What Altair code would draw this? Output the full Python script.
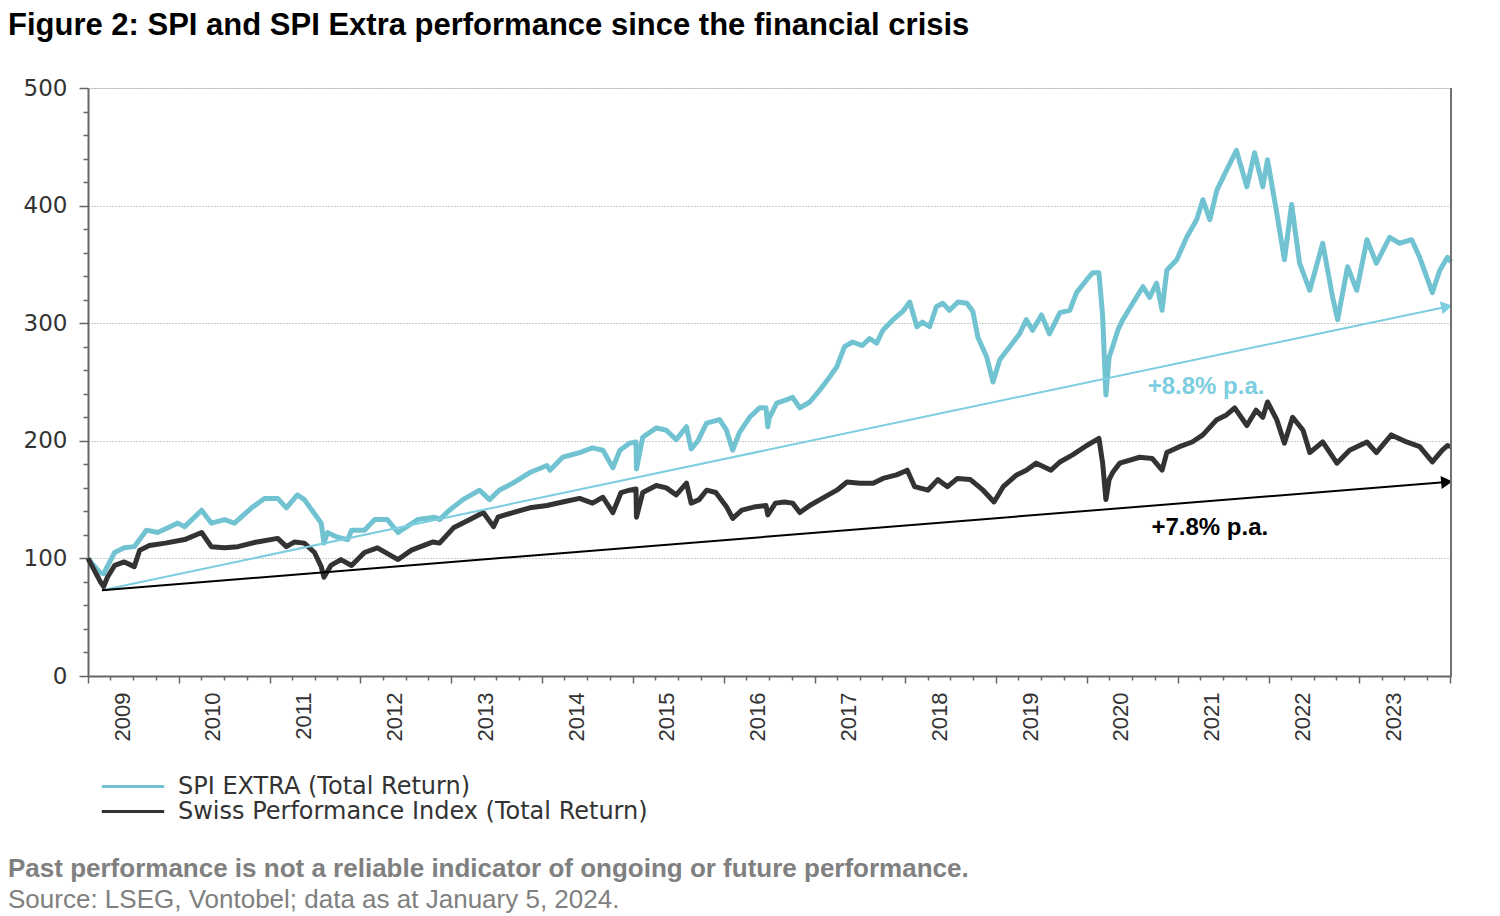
import altair as alt
import pandas as pd

TITLE = "Figure 2: SPI and SPI Extra performance since the financial crisis"
SERIES = ["SPI EXTRA (Total Return)", "Swiss Performance Index (Total Return)"]
COLORS = ["#72c3d2", "#333333"]

EXTRA_DATES = [
    "2009-01-01", "2009-01-16", "2009-02-18", "2009-03-05", "2009-04-18", "2009-05-27", "2009-07-06",
    "2009-08-24", "2009-10-08", "2009-11-18", "2009-12-28",
    "2010-01-25", "2010-04-03", "2010-05-12", "2010-07-04", "2010-08-13", "2010-10-21", "2010-12-12",
    "2011-02-03", "2011-03-10", "2011-04-23", "2011-05-21", "2011-07-01", "2011-07-28", "2011-08-08",
    "2011-08-22", "2011-10-01", "2011-11-12", "2011-11-27",
    "2012-01-18", "2012-02-28", "2012-04-19", "2012-06-01", "2012-08-19", "2012-10-27", "2012-11-15", "2012-12-25",
    "2013-02-17", "2013-04-25", "2013-06-04", "2013-07-13", "2013-09-06", "2013-11-13",
    "2014-01-21", "2014-02-02", "2014-03-25", "2014-06-01", "2014-07-23", "2014-09-03", "2014-10-13",
    "2014-11-10", "2014-12-19",
    "2015-01-14", "2015-01-16", "2015-02-10", "2015-04-06", "2015-05-16", "2015-06-25", "2015-08-05",
    "2015-08-24", "2015-09-20", "2015-10-25", "2015-12-16",
    "2016-01-13", "2016-02-07", "2016-03-05", "2016-04-15", "2016-05-25", "2016-06-20", "2016-06-27",
    "2016-07-04", "2016-08-02", "2016-09-12", "2016-10-05", "2016-11-03", "2016-12-13",
    "2017-01-22", "2017-03-02", "2017-04-01", "2017-05-02", "2017-06-03", "2017-07-13", "2017-08-10",
    "2017-09-08", "2017-10-03", "2017-11-13", "2017-12-22",
    "2018-01-19", "2018-02-17", "2018-03-11", "2018-04-09", "2018-05-06", "2018-06-01", "2018-06-28",
    "2018-08-01", "2018-09-06", "2018-09-30", "2018-10-20", "2018-11-25", "2018-12-20",
    "2019-01-16", "2019-02-25", "2019-04-06", "2019-05-03", "2019-05-28", "2019-07-03", "2019-08-04",
    "2019-09-15", "2019-10-25", "2019-11-21",
    "2020-01-01", "2020-01-25", "2020-02-19", "2020-03-05", "2020-03-18", "2020-03-31", "2020-04-14",
    "2020-05-05", "2020-05-25", "2020-07-04", "2020-08-14", "2020-09-10", "2020-10-08", "2020-10-30",
    "2020-11-18", "2020-12-28",
    "2021-02-06", "2021-03-18", "2021-04-12", "2021-05-10", "2021-06-07", "2021-07-16", "2021-08-25",
    "2021-10-06", "2021-11-06", "2021-12-09", "2021-12-28",
    "2022-02-03", "2022-03-06", "2022-04-04", "2022-05-06", "2022-06-16", "2022-08-07", "2022-09-16",
    "2022-10-06", "2022-11-15", "2022-12-22",
    "2023-02-01", "2023-03-11", "2023-05-03", "2023-06-12", "2023-07-31", "2023-09-01", "2023-10-22",
    "2023-11-21", "2023-12-22", "2024-01-05",
]
EXTRA_VALUES = [
    100, 96, 88, 87, 105, 109, 110, 124, 122, 126, 130,
    127, 141, 130, 133, 130, 143, 151,
    151, 143, 154, 150, 138, 130, 113, 122, 118, 116, 124,
    124, 133, 133, 122, 133, 135, 133, 141,
    150, 158, 150, 158, 164, 173,
    179, 175, 186, 190, 194, 192, 177, 192, 198,
    199, 176, 203, 211, 209, 201, 212, 193, 200, 215, 218,
    209, 192, 207, 220, 228, 228, 212, 220, 232, 235, 237, 228, 233,
    243, 254, 263, 280, 284, 281, 287, 283, 294, 303, 310,
    318, 297, 301, 297, 314, 317, 311, 318, 317, 310, 288, 271, 250,
    269, 280, 291, 303, 294, 307, 291, 309, 311, 326,
    337, 343, 343, 306, 239, 271, 280, 294, 303, 317, 331, 322, 334, 311, 345, 354,
    373, 388, 405, 388, 413, 430, 447, 416, 445, 416, 439,
    394, 354, 401, 351, 328, 368, 322, 303, 348, 328,
    371, 351, 373, 368, 371, 356, 326, 345, 356, 352,
]

SPI_DATES = [
    "2009-01-01", "2009-01-16", "2009-02-20", "2009-03-05", "2009-03-20", "2009-04-18", "2009-05-27",
    "2009-07-06", "2009-07-28", "2009-09-05", "2009-11-08",
    "2010-01-25", "2010-04-03", "2010-05-12", "2010-07-04", "2010-08-27", "2010-11-12",
    "2011-02-03", "2011-03-10", "2011-04-12", "2011-05-21", "2011-07-01", "2011-07-28", "2011-08-08",
    "2011-09-05", "2011-10-15", "2011-11-27",
    "2012-01-18", "2012-03-10", "2012-06-01", "2012-07-25", "2012-10-20", "2012-11-15",
    "2013-01-10", "2013-03-17", "2013-05-10", "2013-06-20", "2013-07-08", "2013-09-06", "2013-11-13",
    "2014-01-21", "2014-03-25", "2014-06-01", "2014-07-23", "2014-09-03", "2014-10-13", "2014-11-15",
    "2014-12-19",
    "2015-01-14", "2015-01-16", "2015-02-10", "2015-04-06", "2015-05-16", "2015-06-25", "2015-08-05",
    "2015-08-24", "2015-09-25", "2015-10-25", "2015-12-01",
    "2016-01-13", "2016-02-07", "2016-03-15", "2016-05-09", "2016-06-20", "2016-06-27", "2016-07-28",
    "2016-09-02", "2016-10-05", "2016-11-03", "2016-12-13",
    "2017-02-01", "2017-04-01", "2017-05-12", "2017-07-03", "2017-08-25", "2017-10-03", "2017-11-27",
    "2018-01-09", "2018-02-08", "2018-04-02", "2018-05-12", "2018-06-20", "2018-07-30", "2018-09-20",
    "2018-11-10", "2018-12-24",
    "2019-01-30", "2019-03-25", "2019-05-03", "2019-06-12", "2019-08-10", "2019-09-15", "2019-11-05",
    "2020-01-01", "2020-02-19", "2020-03-05", "2020-03-18", "2020-03-31", "2020-04-14", "2020-05-13",
    "2020-08-01", "2020-09-20", "2020-10-30", "2020-11-18",
    "2021-01-08", "2021-02-28", "2021-04-12", "2021-06-07", "2021-07-16", "2021-08-18", "2021-10-06",
    "2021-11-12", "2021-12-09", "2021-12-28",
    "2022-02-03", "2022-03-06", "2022-04-08", "2022-05-20", "2022-06-16", "2022-08-07", "2022-10-03",
    "2022-11-23",
    "2023-02-01", "2023-03-11", "2023-05-10", "2023-07-10", "2023-09-01", "2023-10-22", "2023-12-01",
    "2023-12-22", "2024-01-05",
]
SPI_VALUES = [
    100, 94, 80, 76, 84, 94, 97, 93, 107, 111, 113,
    116, 122, 110, 109, 110, 114,
    117, 110, 114, 113, 105, 93, 84, 94, 99, 94,
    105, 109, 99, 107, 114, 113,
    126, 133, 139, 127, 135, 139, 143,
    145, 148, 151, 147, 152, 139, 156, 158,
    159, 135, 156, 162, 160, 154, 164, 147, 150, 158, 156,
    144, 134, 141, 144, 145, 137, 147, 148, 147, 139, 145,
    151, 158, 165, 164, 164, 168, 171,
    175, 161, 158, 167, 161, 168, 167, 158, 148,
    161, 171, 175, 181, 175, 182, 188,
    196, 202, 181, 150, 167, 173, 181, 186, 185, 175, 190,
    195, 199, 205, 218, 222, 228, 213, 226, 220, 233,
    218, 198, 220, 209, 190, 199, 181, 192,
    199, 190, 205, 199, 195, 182, 192, 196, 195,
]

TREND_DATES = ["2009-02-26", "2023-12-19"]
TREND_EXTRA_VALUES = [73, 314]
TREND_SPI_VALUES = [73, 165]
TREND_COLORS = ["#7ccde0", "#000000"]

ANNOT_TEXT = ["+8.8% p.a.", "+7.8% p.a."]
ANNOT_DATES = ["2021-04-25", "2021-05-10"]
ANNOT_VALUES = [246, 126]

YEARS = list(range(2009, 2025))
QUARTER_MONTHS = [1, 4, 7, 10]
Y_TICKS = list(range(0, 501, 20))
FOOTNOTE = "Past performance is not a reliable indicator of ongoing or future performance."
SOURCE = "Source: LSEG, Vontobel; data as at January 5, 2024."

W, H = 1363, 588

df = pd.concat([
    pd.DataFrame({"date": pd.to_datetime(EXTRA_DATES), "value": EXTRA_VALUES, "series": SERIES[0]}),
    pd.DataFrame({"date": pd.to_datetime(SPI_DATES), "value": SPI_VALUES, "series": SERIES[1]}),
])
trend_extra = pd.DataFrame({"date": pd.to_datetime(TREND_DATES), "value": TREND_EXTRA_VALUES})
trend_spi = pd.DataFrame({"date": pd.to_datetime(TREND_DATES), "value": TREND_SPI_VALUES})
annot = pd.DataFrame({"date": pd.to_datetime(ANNOT_DATES), "value": ANNOT_VALUES,
                      "text": ANNOT_TEXT, "color": TREND_COLORS})
foot1 = pd.DataFrame({"text": [FOOTNOTE]})
foot2 = pd.DataFrame({"text": [SOURCE]})

x_ticks = [alt.DateTime(year=y, month=m, date=1) for y in YEARS for m in QUARTER_MONTHS
           if not (y == YEARS[-1] and m > 1)]

x_scale = alt.Scale(domain=[alt.DateTime(year=2009, month=1, date=1),
                            alt.DateTime(year=2024, month=1, date=5)])
y_scale = alt.Scale(domain=[0, 500], nice=False)

x_axis = alt.Axis(
    values=x_ticks, tickCount=500,
    labelExpr="month(datum.value) == 0 && year(datum.value) < 2024 ? timeFormat(datum.value, '%Y') : ''",
    labelAngle=270, labelOffset=34, labelPadding=9,
    labelFont="Liberation Sans", labelFontSize=22, labelColor="#333333",
    labelOverlap=False, labelFlush=False, labelBound=False,
    tickSize={"condition": {"test": "month(datum.value) == 0", "value": 7}, "value": 4},
    tickColor="#666666", tickWidth=1.5, domainColor="#666666", domainWidth=2,
    grid=False, title=None,
)
y_axis = alt.Axis(
    values=Y_TICKS, tickCount=500,
    labelExpr="datum.value % 100 == 0 ? datum.label : ''",
    labelFont="DejaVu Sans", labelFontSize=23, labelColor="#333333", labelPadding=12,
    tickSize={"condition": {"test": "datum.value % 100 == 0", "value": 9}, "value": 5},
    tickColor="#666666", tickWidth=1.5, domainColor="#666666", domainWidth=2,
    grid=True, gridColor="#9a9a9a", gridDash=[1, 2], gridWidth=1,
    gridOpacity={"condition": {"test": "datum.value % 100 == 0", "value": 1}, "value": 0},
    title=None, labelOverlap=False,
)

lines = alt.Chart(df).mark_line(strokeWidth=5, strokeJoin="round").encode(
    x=alt.X("date:T", scale=x_scale, axis=x_axis),
    y=alt.Y("value:Q", scale=y_scale, axis=y_axis),
    color=alt.Color("series:N", scale=alt.Scale(domain=SERIES, range=COLORS),
                    legend=alt.Legend(orient="none", legendX=12, legendY=687, title=None,
                                      symbolType="stroke", symbolSize=3900, symbolStrokeWidth=3,
                                      labelFont="DejaVu Sans", labelFontSize=24, labelColor="#333333",
                                      labelLimit=0, clipHeight=23,
                                      labelOffset=12, rowPadding=0, direction="vertical")),
    order=alt.Order("date:T"),
)

tr1 = alt.Chart(trend_extra).mark_line(color=TREND_COLORS[0], strokeWidth=2).encode(
    x="date:T", y="value:Q")
tr2 = alt.Chart(trend_spi).mark_line(color=TREND_COLORS[1], strokeWidth=2).encode(
    x="date:T", y="value:Q")
ar1 = alt.Chart(trend_extra.tail(1)).mark_point(shape="triangle-right", filled=True, size=170,
                                                 opacity=1, color=TREND_COLORS[0], angle=348).encode(
    x="date:T", y="value:Q")
ar2 = alt.Chart(trend_spi.tail(1)).mark_point(shape="triangle-right", filled=True, size=170,
                                               opacity=1, color=TREND_COLORS[1], angle=355).encode(
    x="date:T", y="value:Q")

labels = alt.Chart(annot).mark_text(font="Liberation Sans", fontWeight="bold", fontSize=24,
                                    align="center", baseline="middle").encode(
    x="date:T", y="value:Q", text="text:N", color=alt.Color("color:N", scale=None))

border = alt.Chart(foot1).mark_rule(color="#707070", strokeWidth=2).encode(
    x=alt.value(W), y=alt.value(0), y2=alt.value(H))

f1 = alt.Chart(foot1).mark_text(font="Liberation Sans", fontWeight="bold", fontSize=26,
                                color="#808080", align="left", baseline="alphabetic").encode(
    x=alt.value(-80), y=alt.value(789), text="text:N")
f2 = alt.Chart(foot2).mark_text(font="Liberation Sans", fontSize=26,
                                color="#808080", align="left", baseline="alphabetic").encode(
    x=alt.value(-80), y=alt.value(820), text="text:N")

chart = alt.layer(lines, tr1, tr2, ar1, ar2, labels, border, f1, f2).properties(
    width=W, height=H,
    title=alt.TitleParams(text=TITLE, anchor="start", frame="group", font="Liberation Sans",
                          fontSize=31, fontWeight="bold", color="#000000", dx=-80,
                          offset=11, baseline="alphabetic"),
    autosize=alt.AutoSizeParams(type="none"),
    padding={"left": 80, "top": 80, "right": 37, "bottom": 240},
).configure_view(stroke=None).configure(background="white")

chart.save("out.html", embed_options={"renderer": "svg", "actions": False})
